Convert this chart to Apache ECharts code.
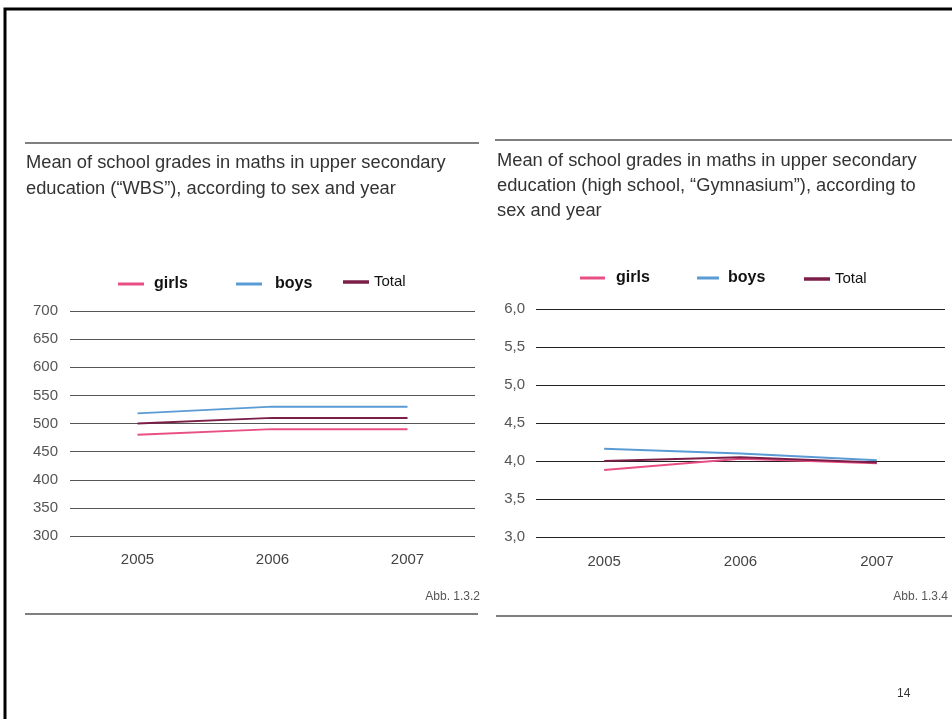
<!DOCTYPE html>
<html>
<head>
<meta charset="utf-8">
<script src="https://cdn.jsdelivr.net/npm/echarts@6/dist/echarts.min.js"></script>
<style>
html,body{margin:0;padding:0;background:#fff;}
#chart{width:952px;height:719px;}
</style>
</head>
<body>
<div id="chart"></div>
<script>
// ---- Data ----
const years = ['2005', '2006', '2007'];
const wbsGirls = [480, 490, 490];
const wbsBoys = [518, 530, 530];
const wbsTotal = [500, 510, 510];
const gymGirls = [3.88, 4.03, 3.97];
const gymBoys = [4.16, 4.10, 4.01];
const gymTotal = [4.00, 4.05, 3.98];
const wbsTicks = { min: 300, max: 700, step: 50 };
const gymTicks = { min: 3.0, max: 6.0, step: 0.5 };
const titleLeft = 'Mean of school grades in maths in upper secondary\neducation (\u201cWBS\u201d), according to sex and year';
const titleRight = 'Mean of school grades in maths in upper secondary\neducation (high school, \u201cGymnasium\u201d), according to\nsex and year';

const FONT = "'Liberation Sans', Arial, sans-serif";
const C_GIRLS = '#e94f84';
const C_BOYS = '#5b9bd5';
const C_TOTAL = '#7b1f48';

const chart = echarts.init(document.getElementById('chart'), null, { renderer: 'canvas' });

function legendItem(name, left, top, w, h, bold, size, pad) {
  return {
    show: true, left: left, top: top, padding: 0, itemWidth: w, itemHeight: h,
    icon: 'rect', selectedMode: false,
    data: [{ name: name, icon: 'rect' }],
    textStyle: { fontFamily: FONT, fontSize: size, fontWeight: bold ? 'bold' : 'normal',
      color: '#111', padding: [0, 0, 0, pad], lineHeight: 20 }
  };
}

function yAxis(grid, t, fmt, gridColor, margin) {
  return {
    type: 'value', gridIndex: grid, min: t.min, max: t.max, interval: t.step,
    axisLine: { show: false }, axisTick: { show: false },
    axisLabel: { fontFamily: FONT, fontSize: 15, color: '#555', margin: margin,
      formatter: fmt },
    splitLine: { show: true, lineStyle: { color: gridColor, width: 1 } }
  };
}
function xAxis(grid, margin) {
  return {
    type: 'category', gridIndex: grid, data: years, boundaryGap: true,
    axisLine: { show: false }, axisTick: { show: false },
    axisLabel: { fontFamily: FONT, fontSize: 15, color: '#444', margin: margin }
  };
}
function line(name, data, color, grid) {
  return {
    type: 'line', name: name, data: data, xAxisIndex: grid, yAxisIndex: grid,
    symbol: 'none', smooth: false, color: color,
    lineStyle: { color: color, width: 2 }, itemStyle: { color: color },
    emphasis: { disabled: true }
  };
}

const option = {
  animation: false,
  backgroundColor: '#fff',
  title: [
    { text: titleLeft, left: 26, top: 150, padding: 0,
      textStyle: { fontFamily: FONT, fontSize: 18.3, fontWeight: 'normal', color: '#333', lineHeight: 26 } },
    { text: titleRight, left: 497, top: 148, padding: 0,
      textStyle: { fontFamily: FONT, fontSize: 18.3, fontWeight: 'normal', color: '#333', lineHeight: 25 } },
    { text: 'Abb. 1.3.2', right: 472, top: 591, padding: 0,
      textStyle: { fontFamily: FONT, fontSize: 12, fontWeight: 'normal', color: '#555' } },
    { text: 'Abb. 1.3.4', right: 4, top: 591, padding: 0,
      textStyle: { fontFamily: FONT, fontSize: 12, fontWeight: 'normal', color: '#555' } },
    { text: '14', left: 897, top: 688, padding: 0,
      textStyle: { fontFamily: FONT, fontSize: 12, fontWeight: 'normal', color: '#333' } }
  ],
  legend: [
    legendItem('girls', 118, 274, 26, 3, true, 16, 5),
    legendItem('boys', 236, 274, 26, 3, true, 16, 8),
    legendItem('Total', 343, 272, 26, 3.5, false, 15, 0),
    legendItem('girls', 580, 268, 25, 3, true, 16, 6),
    legendItem('boys', 697, 268, 22, 3, true, 16, 4),
    legendItem('Total', 804, 269, 26, 3.5, false, 15, 0)
  ],
  grid: [
    { left: 70, top: 311, width: 405, height: 225, containLabel: false },
    { left: 536, top: 309, width: 409, height: 228, containLabel: false }
  ],
  xAxis: [xAxis(0, 16), xAxis(1, 17)],
  yAxis: [
    yAxis(0, wbsTicks, v => String(v), '#555', 12),
    yAxis(1, gymTicks, v => v.toFixed(1).replace('.', ','), '#222', 11)
  ],
  series: [
    line('girls', wbsGirls, C_GIRLS, 0),
    line('boys', wbsBoys, C_BOYS, 0),
    line('Total', wbsTotal, C_TOTAL, 0),
    line('girls', gymGirls, C_GIRLS, 1),
    line('boys', gymBoys, C_BOYS, 1),
    line('Total', gymTotal, C_TOTAL, 1)
  ],
  graphic: [
    { type: 'rect', silent: true, shape: { x: 5, y: 9, width: 1000, height: 800 },
      style: { fill: 'none', stroke: '#000', lineWidth: 3 } },
    { type: 'line', silent: true, shape: { x1: 25, y1: 143, x2: 479, y2: 143 },
      style: { stroke: '#7f7f7f', lineWidth: 2 } },
    { type: 'line', silent: true, shape: { x1: 495, y1: 140, x2: 952, y2: 140 },
      style: { stroke: '#7f7f7f', lineWidth: 2 } },
    { type: 'line', silent: true, shape: { x1: 25, y1: 614, x2: 478, y2: 614 },
      style: { stroke: '#7f7f7f', lineWidth: 2 } },
    { type: 'line', silent: true, shape: { x1: 496, y1: 616, x2: 952, y2: 616 },
      style: { stroke: '#7f7f7f', lineWidth: 2 } }
  ]
};
chart.setOption(option);
</script>
</body>
</html>
